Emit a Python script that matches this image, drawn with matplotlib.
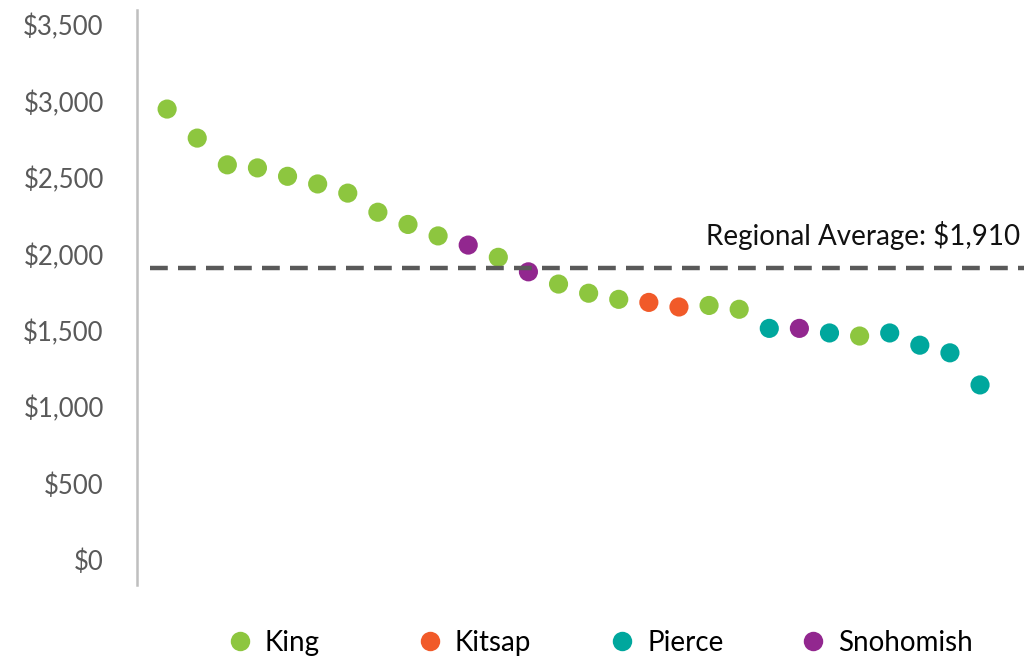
import matplotlib.pyplot as plt
from matplotlib.lines import Line2D
from matplotlib.ticker import FuncFormatter

plt.rcParams['font.family'] = ['Lato', 'DejaVu Sans']

# monthly rent per city, sorted high to low, with the county each belongs to
rents = [2950, 2760, 2585, 2565, 2510, 2460, 2400, 2275, 2195, 2120,
         2060, 1980, 1885, 1805, 1745, 1705, 1685, 1655, 1665, 1640,
         1515, 1515, 1485, 1465, 1485, 1405, 1355, 1145]
counties = ['King'] * 10 + ['Snohomish', 'King', 'Snohomish', 'King', 'King', 'King',
            'Kitsap', 'Kitsap', 'King', 'King', 'Pierce', 'Snohomish', 'Pierce',
            'King', 'Pierce', 'Pierce', 'Pierce', 'Pierce']
county_names = ['King', 'Kitsap', 'Pierce', 'Snohomish']
county_colors = ['#8dc63f', '#f15a29', '#00a79d', '#92278f']
regional_avg = 1910

color_of = dict(zip(county_names, county_colors))

fig = plt.figure(figsize=(10.24, 6.59), dpi=100)
ax = fig.add_axes([0.1338, 0.1123, 0.8662, 0.8725])

xs = list(range(len(rents)))
ax.scatter(xs, rents, s=190, c=[color_of[c] for c in counties], linewidths=0, zorder=2)

ax.axhline(regional_avg, xmin=0.0147, xmax=1, color='#595959', lw=3.2,
           dashes=(4, 2.3), zorder=3)
ax.text(17.9, 2060, f'Regional Average: ${regional_avg:,}',
        fontsize=20, color='#111111', ha='left', va='baseline')

ax.set_xlim(-1, 28.46)
ax.set_ylim(-164, 3598)
ax.set_yticks(range(0, 3501, 500))
ax.yaxis.set_major_formatter(FuncFormatter(lambda v, p: f'${v:,.0f}'))
ax.tick_params(axis='y', length=0, pad=24, labelsize=18.5, labelcolor='#595959')
ax.set_xticks([])

for side in ['top', 'right', 'bottom']:
    ax.spines[side].set_visible(False)
ax.spines['left'].set_color('#bfbfbf')
ax.spines['left'].set_linewidth(1.8)

# one legend entry per slot so the entries sit evenly spaced along the bottom
slots = [0.2207, 0.406, 0.594, 0.780]
for name, color, x0 in zip(county_names, county_colors, slots):
    h = Line2D([], [], marker='o', ls='', markersize=14, markeredgewidth=0,
               color=color, label=name)
    fig.legend(handles=[h], loc='center left', bbox_to_anchor=(x0, 0.0243),
               frameon=False, fontsize=20, handletextpad=0.4, handlelength=1.0,
               borderpad=0, borderaxespad=0)

fig.savefig('out.png', dpi=100)
plt.close(fig)
